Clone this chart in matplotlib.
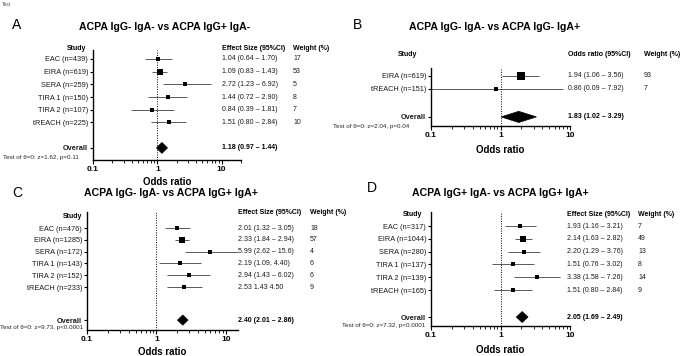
import numpy as np
import matplotlib.pyplot as plt
from matplotlib.patches import Polygon
from matplotlib.transforms import blended_transform_factory
from matplotlib.ticker import FixedLocator, LogLocator, NullFormatter

plt.rcParams['font.family'] = ['Liberation Sans', 'DejaVu Sans']

W, H = 685, 356

# ---- Panel A: ACPA IgG- IgA- vs ACPA IgG+ IgA-
a_studies = ['EAC (n=439)', 'EIRA (n=619)', 'SERA (n=259)', 'TIRA 1 (n=150)', 'TIRA 2 (n=107)', 'tREACH (n=225)']
a_or = [1.04, 1.09, 2.72, 1.44, 0.84, 1.51]
a_lo = [0.64, 0.83, 1.23, 0.72, 0.39, 0.80]
a_hi = [1.70, 1.43, 6.92, 2.90, 1.81, 2.84]
a_weight = [17, 53, 5, 8, 7, 10]
a_ci_text = ['1.04 (0.64 – 1.70)', '1.09 (0.83 – 1.43)', '2.72 (1.23 – 6.92)',
             '1.44 (0.72 – 2.90)', '0.84 (0.39 – 1.81)', '1.51 (0.80 – 2.84)']
a_overall = [1.18, 0.97, 1.44]
a_overall_text = '1.18 (0.97 – 1.44)'
a_test = 'Test of θ=0: z=1.62, p=0.11'

# ---- Panel B: ACPA IgG- IgA- vs ACPA IgG- IgA+
b_studies = ['EIRA (n=619)', 'tREACH (n=151)']
b_or = [1.94, 0.86]
b_lo = [1.06, 0.09]
b_hi = [3.56, 7.92]
b_weight = [93, 7]
b_ci_text = ['1.94 (1.06 – 3.56)', '0.86 (0.09 – 7.92)']
b_overall = [1.83, 1.02, 3.29]
b_overall_text = '1.83 (1.02 – 3.29)'
b_test = 'Test of θ=0: z=2.04, p=0.04'

# ---- Panel C: ACPA IgG- IgA- vs ACPA IgG+ IgA+
c_studies = ['EAC (n=476)', 'EIRA (n=1285)', 'SERA (n=172)', 'TIRA 1 (n=143)', 'TIRA 2 (n=152)', 'tREACH (n=233)']
c_or = [2.01, 2.33, 5.99, 2.19, 2.94, 2.53]
c_lo = [1.32, 1.84, 2.62, 1.09, 1.43, 1.43]
c_hi = [3.05, 2.94, 15.6, 4.40, 6.02, 4.50]
c_weight = [18, 57, 4, 6, 6, 9]
c_ci_text = ['2.01 (1.32 – 3.05)', '2.33 (1.84 – 2.94)', '5.99 (2.62 – 15.6)',
             '2.19 (1.09, 4.40)', '2.94 (1.43 – 6.02)', '2.53 1.43 4.50']
c_overall = [2.40, 2.01, 2.86]
c_overall_text = '2.40 (2.01 – 2.86)'
c_test = 'Test of θ=0: z=9.73, p<0.0001'

# ---- Panel D: ACPA IgG+ IgA- vs ACPA IgG+ IgA+
d_studies = ['EAC (n=317)', 'EIRA (n=1044)', 'SERA (n=280)', 'TIRA 1 (n=137)', 'TIRA 2 (n=139)', 'tREACH (n=165)']
d_or = [1.93, 2.14, 2.20, 1.51, 3.38, 1.51]
d_lo = [1.16, 1.63, 1.29, 0.76, 1.58, 0.80]
d_hi = [3.21, 2.82, 3.76, 3.02, 7.26, 2.84]
d_weight = [7, 49, 13, 8, 14, 9]
d_ci_text = ['1.93 (1.16 – 3.21)', '2.14 (1.63 – 2.82)', '2.20 (1.29 – 3.76)',
             '1.51 (0.76 – 3.02)', '3.38 (1.58 – 7.26)', '1.51 (0.80 – 2.84)']
d_overall = [2.05, 1.69, 2.49]
d_overall_text = '2.05 (1.69 – 2.49)'
d_test = 'Test of θ=0: z=7.32, p<0.0001'

fig = plt.figure(figsize=(W / 100, H / 100), dpi=100)


def ftext(x, y, s, **kw):
    """Text placed in figure pixel coordinates (y from the top)."""
    fig.text(x / W, 1 - y / H, s, **kw)


def forest(lay, title, letter, studies, est, lo, hi, wt, ci_txt, overall, overall_txt, test, ci_head):
    x0, y0, x1, y1 = lay['box']
    ax = fig.add_axes([x0 / W, 1 - y1 / H, (x1 - x0) / W, (y1 - y0) / H])
    ax.set_xscale('log')
    ax.set_xlim(lay['xlim'])
    ax.set_ylim(lay['ylim'])
    rows = np.arange(1, len(studies) + 1)
    ov = lay['ov']

    for i, r in enumerate(rows):
        ax.plot([lo[i], hi[i]], [r, r], color='0.25', lw=0.6, solid_capstyle='butt')
        ax.plot(est[i], r, 's', color='black', ms=1.5 + 0.38 * np.sqrt(wt[i]), mew=0)
    e, l, h = overall
    ax.add_patch(Polygon([(l, ov), (e, ov - 0.43), (h, ov), (e, ov + 0.43)],
                         closed=True, facecolor='black', edgecolor='black', lw=0.5))
    ax.axvline(1, color='black', ls=(0, (1, 1.5)), lw=0.7)

    # axes styling
    for s in ['top', 'right']:
        ax.spines[s].set_visible(False)
    for s in ['left', 'bottom']:
        ax.spines[s].set_linewidth(1.0)
    ax.set_yticks(list(rows) + [ov])
    ax.set_yticklabels(studies + ['Overall'], fontsize=5.3, color='0.1')
    ax.get_yticklabels()[-1].set_fontweight('bold')
    ax.tick_params(axis='y', length=2, width=0.8, pad=1.5)
    ax.xaxis.set_major_locator(FixedLocator([0.1, 1, 10]))
    ax.set_xticklabels(['0.1', '1', '10'], fontsize=6, fontweight='bold')
    ax.xaxis.set_minor_locator(LogLocator(base=10, subs=np.arange(2, 10)))
    ax.xaxis.set_minor_formatter(NullFormatter())
    ax.tick_params(axis='x', which='major', length=3, width=0.8, pad=1.5)
    ax.tick_params(axis='x', which='minor', length=2, width=0.6)
    ax.set_xlabel('Odds ratio', fontsize=7, fontweight='bold', labelpad=lay['labelpad'])

    # columns of text
    tr = blended_transform_factory(fig.transFigure, ax.transData)
    c1, c2 = lay['cols']
    for i, r in enumerate(rows):
        ax.text(c1 / W, r, ci_txt[i], transform=tr, fontsize=5, va='center', ha='left', color='0.1')
        ax.text(c2 / W, r, str(wt[i]), transform=tr, fontsize=5, va='center', ha='left', color='0.1')
    ax.text(c1 / W, ov, overall_txt, transform=tr, fontsize=5, va='center', ha='left', fontweight='bold')

    hx, hy = lay['study_head']
    ftext(hx, hy, 'Study', fontsize=5, fontweight='bold', ha='center', va='center')
    ftext(c1, lay['head_y'], ci_head, fontsize=5, fontweight='bold', ha='left', va='center')
    ftext(c2, lay['head_y'], 'Weight (%)', fontsize=5, fontweight='bold', ha='left', va='center')

    tx, ty = lay['title']
    ftext(tx, ty, title, fontsize=7.6, fontweight='bold', ha='center', va='center')
    lx, ly = lay['letter']
    ftext(lx, ly, letter, fontsize=10, ha='center', va='center')
    sx, sy = lay['test']
    ftext(sx, sy, test, fontsize=4.5, ha='left', va='center', color='0.15')
    return ax


lay_a = dict(box=(93, 50, 241, 160), xlim=(0.1, 20), ylim=(8.95, 0.3), ov=8, labelpad=3,
             cols=(222, 293), head_y=49, study_head=(77, 49), title=(165, 27), letter=(17, 25), test=(3, 157))
lay_b = dict(box=(431, 68, 570, 126), xlim=(0.1, 10), ylim=(4.85, 0.385), ov=4.15, labelpad=4,
             cols=(568, 644), head_y=55, study_head=(408, 55), title=(495, 27), letter=(357, 25), test=(333, 127))
lay_c = dict(box=(87, 212, 238, 330), xlim=(0.1, 15), ylim=(9.64, -0.356), ov=8.8, labelpad=3,
             cols=(238, 310), head_y=213, study_head=(73, 217), title=(171, 193), letter=(17, 193), test=(0, 327))
lay_d = dict(box=(431, 212, 570, 326), xlim=(0.1, 10), ylim=(8.81, -0.094), ov=8.11, labelpad=4,
             cols=(567, 638), head_y=214, study_head=(413, 214), title=(500, 193), letter=(372, 188), test=(342, 326))

forest(lay_a, 'ACPA IgG- IgA- vs ACPA IgG+ IgA-', 'A', a_studies, a_or, a_lo, a_hi, a_weight,
       a_ci_text, a_overall, a_overall_text, a_test, 'Effect Size (95%CI)')
forest(lay_b, 'ACPA IgG- IgA- vs ACPA IgG- IgA+', 'B', b_studies, b_or, b_lo, b_hi, b_weight,
       b_ci_text, b_overall, b_overall_text, b_test, 'Odds ratio (95%CI)')
forest(lay_c, 'ACPA IgG- IgA- vs ACPA IgG+ IgA+', 'C', c_studies, c_or, c_lo, c_hi, c_weight,
       c_ci_text, c_overall, c_overall_text, c_test, 'Effect Size (95%CI)')
forest(lay_d, 'ACPA IgG+ IgA- vs ACPA IgG+ IgA+', 'D', d_studies, d_or, d_lo, d_hi, d_weight,
       d_ci_text, d_overall, d_overall_text, d_test, 'Effect Size (95%CI)')

ftext(2, 4, 'Test', fontsize=3.5, ha='left', va='center', color='0.3')

fig.savefig('out.png', dpi=100)
